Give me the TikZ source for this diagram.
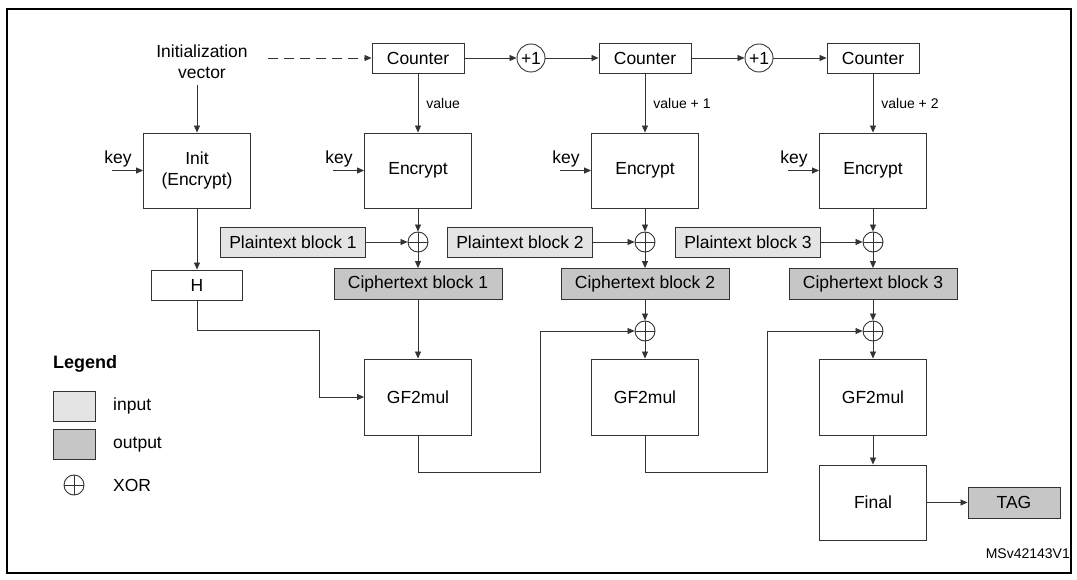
\documentclass[tikz,border=0pt]{standalone}
\usepackage{fontspec}
\setmainfont{Liberation Sans}
\usetikzlibrary{arrows.meta}
\definecolor{inp}{HTML}{E4E4E4}
\definecolor{outp}{HTML}{C6C6C6}
\definecolor{ln}{HTML}{333333}
\begin{document}
\begin{tikzpicture}[x=1pt,y=-1pt,
  every node/.style={font=\fontsize{17.5}{21}\selectfont, inner sep=0pt},
  blk/.style={draw=ln, line width=0.9pt, minimum width=#1},
  big/.style={blk=107, minimum height=75, align=center},
  ctr/.style={blk=92, minimum height=30},
  inbox/.style={blk=145, minimum height=30, fill=inp},
  outbox/.style={blk=168, minimum height=31, fill=outp},
  small/.style={font=\fontsize{14}{16}\selectfont},
  xorn/.style={circle, draw=ln, line width=0.9pt, minimum size=20,
    path picture={\draw[ln, line width=0.9pt] (path picture bounding box.north) -- (path picture bounding box.south)
      (path picture bounding box.west) -- (path picture bounding box.east);}},
  arr/.style={draw=ln, line width=0.8pt, -{Triangle[length=7pt,width=6pt]}},
  ln/.style={draw=ln, line width=0.8pt}]
\useasboundingbox (0,0) rectangle (1077,580);
\draw[line width=1.6pt] (7,9) rectangle (1071,573);

% IV
\node[align=center] (iv) at (202,62) {Initialization\\vector};
\node[ctr] (c1) at (418,58) {Counter};
\node[ctr] (c2) at (645,58) {Counter};
\node[ctr] (c3) at (873,58) {Counter};
\node[circle, draw=ln, line width=0.9pt, minimum size=28] (p1) at (531,58) {+1};
\node[circle, draw=ln, line width=0.9pt, minimum size=28] (p2) at (759,58) {+1};
\coordinate (ivr) at (268,58);
\draw[arr, dashed, dash pattern=on 10pt off 6pt] (ivr) -- (c1.west);
\draw[arr] (c1) -- (p1);
\draw[arr] (p1) -- (c2);
\draw[arr] (c2) -- (p2);
\draw[arr] (p2) -- (c3);

% encrypt row
\node[big] (init) at (197,170.5) {Init\\(Encrypt)};
\node[big] (e1) at (418,170.5) {Encrypt};
\node[big] (e2) at (645,170.5) {Encrypt};
\node[big] (e3) at (873,170.5) {Encrypt};
\coordinate (ivb) at (197,85);
\draw[arr] (ivb) -- (init.north);
\draw[arr] (c1) -- node[small, anchor=west, xshift=8pt] {value} (e1);
\draw[arr] (c2) -- node[small, anchor=west, xshift=8pt] {value + 1} (e2);
\draw[arr] (c3) -- node[small, anchor=west, xshift=8pt] {value + 2} (e3);
\foreach \b in {init,e1,e2,e3}{
  \coordinate (k\b) at ([xshift=-31pt]\b.west);
  \draw[arr] (k\b) -- (\b.west);
  \node[anchor=south] at ([xshift=6pt, yshift=3pt]k\b) {key};
}

% plaintext / xor / ciphertext
\node[inbox] (pt1) at (293,242) {Plaintext block 1};
\node[inbox] (pt2) at (520,242) {Plaintext block 2};
\node[inbox] (pt3) at (748,242) {Plaintext block 3};
\node[xorn] (x1) at (418,242) {};
\node[xorn] (x1b) at (645,242) {};
\node[xorn] (x1c) at (873,242) {};
\node[outbox] (ct1) at (418,284) {Ciphertext block 1};
\node[outbox] (ct2) at (645,284) {Ciphertext block 2};
\node[outbox] (ct3) at (873,284) {Ciphertext block 3};
\node[blk=91, minimum height=30] (H) at (197,285) {H};
\draw[arr] (init) -- (H);
\draw[arr] (e1) -- (x1); \draw[arr] (e2) -- (x1b); \draw[arr] (e3) -- (x1c);
\draw[arr] (pt1) -- (x1); \draw[arr] (pt2) -- (x1b); \draw[arr] (pt3) -- (x1c);
\draw[arr] (x1) -- (ct1); \draw[arr] (x1b) -- (ct2); \draw[arr] (x1c) -- (ct3);

% GF2mul row
\node[xorn] (x2) at (645,331) {};
\node[xorn] (x3) at (873,331) {};
\node[big, minimum height=76] (g1) at (418,397) {GF2mul};
\node[big, minimum height=76] (g2) at (645,397) {GF2mul};
\node[big, minimum height=76] (g3) at (873,397) {GF2mul};
\node[big] (fin) at (873,502.5) {Final};
\node[blk=92, minimum height=31, fill=outp] (tag) at (1014,502.5) {TAG};
\draw[arr] (ct1) -- (g1);
\draw[arr] (ct2) -- (x2); \draw[arr] (x2) -- (g2);
\draw[arr] (ct3) -- (x3); \draw[arr] (x3) -- (g3);
\draw[arr] (g3) -- (fin);
\draw[arr] (fin) -- (tag);
\coordinate (h1) at (197,330);
\coordinate (h2) at (319,397);
\draw[arr] (H.south) -- (h1) -| (h2) -- (g1.west);
\coordinate (l1) at (418,472);
\coordinate (l2) at (540,331);
\draw[arr] (g1.south) -- (l1) -| (l2) -- (x2.west);
\coordinate (m1) at (645,472);
\coordinate (m2) at (767,331);
\draw[arr] (g2.south) -- (m1) -| (m2) -- (x3.west);

\node[small, anchor=east] (ms) at (1070,554) {MSv42143V1};

% legend
\node[anchor=west, font=\bfseries\fontsize{18}{21}\selectfont] (lg) at (53,364) {Legend};
\node[blk=42, minimum height=30, fill=inp] (li) at (74,406) {};
\node[blk=42, minimum height=30, fill=outp] (lo) at (74,444.5) {};
\node[xorn] (lx) at (74,485) {};
\node[anchor=west] (lit) at (113,406) {input};
\node[anchor=west] (lot) at (113,444.5) {output};
\node[anchor=west] (lxt) at (113,485) {XOR};
\end{tikzpicture}
\end{document}
